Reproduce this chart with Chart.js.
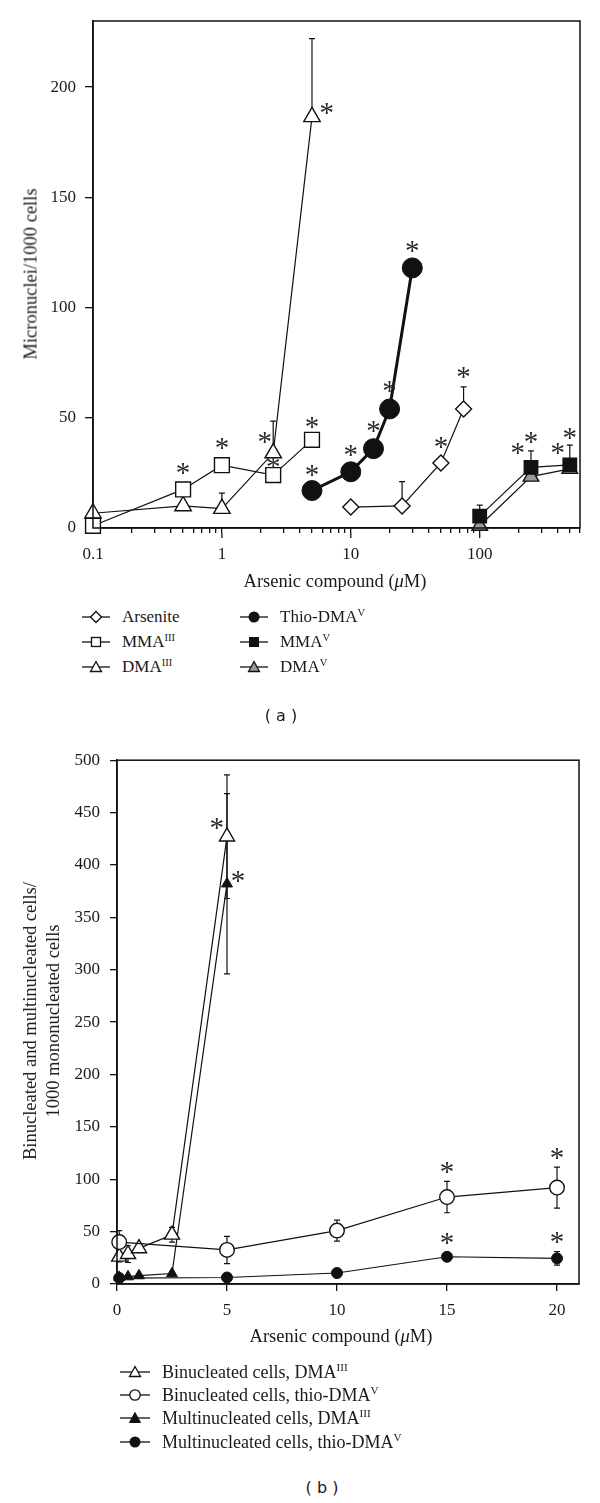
<!DOCTYPE html>
<html>
<head>
<meta charset="utf-8">
<script src="https://cdn.jsdelivr.net/npm/chart.js@4.4.1/dist/chart.umd.min.js"></script>
<style>
  body { margin: 0; background: #fff; overflow: hidden; }
  #wrap { position: relative; width: 600px; height: 1503px; font-family: 'Liberation Serif', 'Times New Roman', serif; color: #1a1a1a; }
  canvas { position: absolute; left: 0; }
  .txt { position: absolute; white-space: nowrap; }
  .ytitle { transform: translate(-50%, -50%) rotate(-90deg); text-align: center; line-height: 23px; }
  .xtitle { transform: translate(-50%, -50%); }
  .leg { position: absolute; display: flex; align-items: center; height: 22px; white-space: nowrap; }
  .leg svg { margin-right: 12px; flex: none; }
  .leg span { display: inline-block; }
  sup { font-size: 0.62em; vertical-align: 0.6em; line-height: 0; }
  .cap { position: absolute; transform: translate(-50%, -50%); font-family: 'DejaVu Sans', sans-serif; font-size: 16px; white-space: pre; }
</style>
</head>
<body>
<div id="wrap">
  <canvas id="chartA" width="600" height="600" style="top:0"></canvas>
  <div class="txt ytitle" style="left:31px;top:274px;font-size:18.5px">Micronuclei/1000 cells</div>
  <div class="txt xtitle" style="left:335px;top:581px;font-size:18.5px">Arsenic compound (<i>μ</i>M)</div>

  <div class="leg" style="left:82px;top:606px;font-size:17px">
    <svg width="28" height="16"><line x1="0" y1="8" x2="28" y2="8" stroke="#111" stroke-width="1.3"/><polygon points="14,2.5 19.5,8 14,13.5 8.5,8" fill="#fff" stroke="#111" stroke-width="1.3"/></svg><span>Arsenite</span></div>
  <div class="leg" style="left:82px;top:631px;font-size:17px">
    <svg width="28" height="16"><line x1="0" y1="8" x2="28" y2="8" stroke="#111" stroke-width="1.3"/><rect x="9.5" y="3.5" width="9" height="9" fill="#fff" stroke="#111" stroke-width="1.3"/></svg><span>MMA<sup>III</sup></span></div>
  <div class="leg" style="left:82px;top:656px;font-size:17px">
    <svg width="28" height="16"><line x1="0" y1="8" x2="28" y2="8" stroke="#111" stroke-width="1.3"/><polygon points="14,2.5 19.5,12.5 8.5,12.5" fill="#fff" stroke="#111" stroke-width="1.3"/></svg><span>DMA<sup>III</sup></span></div>
  <div class="leg" style="left:240px;top:606px;font-size:17px">
    <svg width="28" height="16"><line x1="0" y1="8" x2="28" y2="8" stroke="#111" stroke-width="1.3"/><circle cx="14" cy="8" r="5.5" fill="#111"/></svg><span>Thio-DMA<sup>V</sup></span></div>
  <div class="leg" style="left:240px;top:631px;font-size:17px">
    <svg width="28" height="16"><line x1="0" y1="8" x2="28" y2="8" stroke="#111" stroke-width="1.3"/><rect x="9" y="3" width="10" height="10" fill="#111"/></svg><span>MMA<sup>V</sup></span></div>
  <div class="leg" style="left:240px;top:656px;font-size:17px">
    <svg width="28" height="16"><line x1="0" y1="8" x2="28" y2="8" stroke="#111" stroke-width="1.3"/><polygon points="14,2.5 19.5,12.5 8.5,12.5" fill="#999" stroke="#111" stroke-width="1.3"/></svg><span>DMA<sup>V</sup></span></div>
  <div class="cap" style="left:281px;top:715px">( a )</div>

  <canvas id="chartB" width="600" height="620" style="top:740px"></canvas>
  <div class="txt ytitle" style="left:42px;top:1021px;font-size:18.5px">Binucleated and multinucleated cells/<br>1000 mononucleated cells</div>
  <div class="txt xtitle" style="left:341px;top:1336px;font-size:18.5px">Arsenic compound (<i>μ</i>M)</div>

  <div class="leg" style="left:120px;top:1361px;font-size:18px">
    <svg width="30" height="16"><line x1="0" y1="8" x2="30" y2="8" stroke="#111" stroke-width="1.3"/><polygon points="15,2.5 20.5,12.5 9.5,12.5" fill="#fff" stroke="#111" stroke-width="1.3"/></svg><span>Binucleated cells, DMA<sup>III</sup></span></div>
  <div class="leg" style="left:120px;top:1384px;font-size:18px">
    <svg width="30" height="16"><line x1="0" y1="8" x2="30" y2="8" stroke="#111" stroke-width="1.3"/><circle cx="15" cy="8" r="5.2" fill="#fff" stroke="#111" stroke-width="1.3"/></svg><span>Binucleated cells, thio-DMA<sup>V</sup></span></div>
  <div class="leg" style="left:120px;top:1407px;font-size:18px">
    <svg width="30" height="16"><line x1="0" y1="8" x2="30" y2="8" stroke="#111" stroke-width="1.3"/><polygon points="15,2.5 20.5,12.5 9.5,12.5" fill="#111" stroke="#111" stroke-width="1"/></svg><span>Multinucleated cells, DMA<sup>III</sup></span></div>
  <div class="leg" style="left:120px;top:1431px;font-size:18px">
    <svg width="30" height="16"><line x1="0" y1="8" x2="30" y2="8" stroke="#111" stroke-width="1.3"/><circle cx="15" cy="8" r="5.5" fill="#111"/></svg><span>Multinucleated cells, thio-DMA<sup>V</sup></span></div>
  <div class="cap" style="left:322px;top:1487px">( b )</div>
</div>

<script>
// ---- panel (a): micronuclei per 1000 cells ----
const arseniteDose = [10, 25, 50, 75];
const arseniteMN = [9.5, 10, 29.5, 54];
const arseniteSD = [0, 11, 0, 10];

const mma3Dose = [0.1, 0.5, 1, 2.5, 5];
const mma3MN = [1, 17.5, 28.5, 24, 40];

const dma3Dose = [0.1, 0.5, 1, 2.5, 5];
const dma3MN = [6.7, 10, 8.8, 34, 186.5];
const dma3SD = [0, 0, 7, 14.5, 35.5];

const thioDose = [5, 10, 15, 20, 30];
const thioMN = [17, 25.5, 36, 54, 118];

const mma5Dose = [100, 250, 500];
const mma5MN = [5.4, 27.5, 28.6];
const mma5SD = [5, 7.5, 9];

const dma5Dose = [100, 250, 500];
const dma5MN = [1, 23.3, 26.8];

// significance asterisks, [dose, value]
const starsA = [[0.5, 27], [1, 38.5], [2.15, 41], [2.5, 29.5], [6.5, 190.5], [5, 48],
                [5, 26], [10, 35], [15, 46], [20, 64], [30, 127.5],
                [50, 39], [75, 70.5], [197, 36], [250, 41], [403, 36], [500, 43]];

const xTicksA = [0.1, 0.2, 0.3, 0.4, 0.5, 0.6, 0.7, 0.8, 0.9,
                 1, 2, 3, 4, 5, 6, 7, 8, 9,
                 10, 20, 30, 40, 50, 60, 70, 80, 90,
                 100, 200, 300, 400, 500, 600];
const xLabelsA = [0.1, 1, 10, 100];
const yTicksA = [0, 50, 100, 150, 200];

// ---- panel (b): binucleated / multinucleated cells ----
const dmaDoseB = [0.1, 0.5, 1, 2.5, 5];
const thioDoseB = [0.1, 5, 10, 15, 20];
const binDMA = [26, 28.5, 34, 47, 427];
const binDMASD = [5, 8, 0, 7, 59];
const binThio = [40, 32.5, 51, 83, 92];
const binThioSD = [11, 13, 10, 15, 19.5];
const multiDMA = [6.5, 7, 8, 10, 382];
const multiDMASD = [0, 0, 0, 0, 86];
const multiThio = [5.7, 6.2, 10.5, 26, 24.5];
const multiThioSD = [0, 0, 0, 0, 6.5];

const starsB = [[4.53, 440], [5.5, 389], [15, 111], [15, 43], [20, 125], [20, 44]];

const xTicksB = [0, 5, 10, 15, 20];
const yTicksB = [0, 50, 100, 150, 200, 250, 300, 350, 400, 450, 500];

const INK = '#111';
const serif = "'Liberation Serif', 'Times New Roman', serif";

function series(label, xs, ys, extra) {
  return Object.assign({
    label: label,
    data: xs.map((x, i) => ({x: x, y: ys[i]})),
    borderColor: INK, borderWidth: 1.2,
    pointBorderColor: INK, pointBorderWidth: 1.4,
    pointBackgroundColor: '#fff',
    tension: 0, fill: false, clip: false
  }, extra);
}

// error bars drawn behind the markers
const errorBars = {
  id: 'errorBars',
  beforeDatasetsDraw(chart) {
    const ctx = chart.ctx, ys = chart.scales.y;
    chart.data.datasets.forEach((ds, i) => {
      if (!ds.sd) return;
      const meta = chart.getDatasetMeta(i);
      ctx.save();
      ctx.strokeStyle = INK;
      ctx.lineWidth = 1.2;
      ds.data.forEach((p, j) => {
        const sd = ds.sd[j];
        if (!sd) return;
        const x = meta.data[j].x;
        const top = ys.getPixelForValue(p.y + sd);
        const bot = ds.sdBoth ? ys.getPixelForValue(p.y - sd) : meta.data[j].y;
        ctx.beginPath();
        ctx.moveTo(x, top); ctx.lineTo(x, bot);
        ctx.moveTo(x - 3, top); ctx.lineTo(x + 3, top);
        if (ds.sdBoth) { ctx.moveTo(x - 3, bot); ctx.lineTo(x + 3, bot); }
        ctx.stroke();
      });
      ctx.restore();
    });
  }
};

// closes the plot box on top and right
const frame = {
  id: 'frame',
  afterDraw(chart) {
    const a = chart.chartArea, ctx = chart.ctx;
    ctx.save();
    ctx.strokeStyle = INK;
    ctx.lineWidth = 1.5;
    ctx.strokeRect(a.left, a.top, a.right - a.left, a.bottom - a.top);
    ctx.restore();
  }
};

function makeStars(points) {
  return {
    id: 'stars',
    afterDatasetsDraw(chart) {
      const ctx = chart.ctx, xs = chart.scales.x, ys = chart.scales.y;
      ctx.save();
      ctx.fillStyle = '#2a2a2a';
      ctx.font = '29px ' + serif;
      ctx.textAlign = 'center';
      ctx.textBaseline = 'alphabetic';
      const m = ctx.measureText('*');
      const mid = (m.actualBoundingBoxAscent - m.actualBoundingBoxDescent) / 2;
      points.forEach(p => {
        ctx.fillText('*', xs.getPixelForValue(p[0]), ys.getPixelForValue(p[1]) + mid);
      });
      ctx.restore();
    }
  };
}

function makeLongTicks(values, from, to) {
  return {
    id: 'longTicks',
    afterDraw(chart) {
      const ctx = chart.ctx, xs = chart.scales.x, b = chart.chartArea.bottom;
      ctx.save();
      ctx.strokeStyle = INK;
      ctx.lineWidth = 1.3;
      values.forEach(v => {
        const x = xs.getPixelForValue(v);
        ctx.beginPath(); ctx.moveTo(x, b + from); ctx.lineTo(x, b + to); ctx.stroke();
      });
      ctx.restore();
    }
  };
}

function axis(extra) {
  return Object.assign({
    grid: { display: true, drawOnChartArea: false, drawTicks: true, color: INK, lineWidth: 1.3 },
    border: { display: true, color: INK, width: 1.5 },
    ticks: { color: '#1a1a1a', font: { family: serif, size: 17 }, autoSkip: false, maxRotation: 0 }
  }, extra);
}

window.onload = function () {
  const ctxA = document.getElementById('chartA').getContext('2d');
  const ctxB = document.getElementById('chartB').getContext('2d');

  // Panel (a)
  new Chart(ctxA, {
    type: 'line',
    data: {
      datasets: [
        series('Thio-DMA V', thioDose, thioMN, {borderWidth: 3, pointStyle: 'circle', pointRadius: 10, pointBackgroundColor: INK, pointBorderWidth: 1}),
        series('Arsenite', arseniteDose, arseniteMN, {pointStyle: 'rectRot', pointRadius: 8, sd: arseniteSD}),
        series('MMA III', mma3Dose, mma3MN, {pointStyle: 'rect', pointRadius: 10.5}),
        series('DMA III', dma3Dose, dma3MN, {pointStyle: 'triangle', pointRadius: 9.5, sd: dma3SD}),
        series('MMA V', mma5Dose, mma5MN, {pointStyle: 'rect', pointRadius: 9.5, pointBackgroundColor: INK, sd: mma5SD}),
        series('DMA V', dma5Dose, dma5MN, {pointStyle: 'triangle', pointRadius: 9, pointBackgroundColor: '#9a9a9a'})
      ]
    },
    options: {
      responsive: false, animation: false,
      layout: { padding: { top: 21, right: 20, left: 0, bottom: 0 } },
      plugins: { legend: { display: false }, tooltip: { enabled: false } },
      scales: {
        x: axis({
          type: 'logarithmic', min: 0.1, max: 600,
          afterBuildTicks: s => { s.ticks = xTicksA.map(v => ({value: v})); },
          afterFit: s => { s.height = 72; },
          grid: { display: true, drawOnChartArea: false, drawTicks: true, color: INK, lineWidth: 1.3, tickLength: 5 },
          ticks: { color: '#1a1a1a', font: { family: serif, size: 17 }, autoSkip: false, maxRotation: 0, padding: 11,
                   callback: v => xLabelsA.includes(v) ? String(v) : '' }
        }),
        y: axis({
          type: 'linear', min: 0, max: 230,
          afterBuildTicks: s => { s.ticks = yTicksA.map(v => ({value: v})); },
          afterFit: s => { s.width = 93; },
          grid: { display: true, drawOnChartArea: false, drawTicks: true, color: INK, lineWidth: 1.3, tickLength: 8 },
          ticks: { color: '#1a1a1a', font: { family: serif, size: 17 }, padding: 9 }
        })
      }
    },
    plugins: [errorBars, frame, makeStars(starsA), makeLongTicks([1, 10, 100], 5, 10)]
  });

  // Panel (b)
  new Chart(ctxB, {
    type: 'line',
    data: {
      datasets: [
        series('Binucleated cells, thio-DMA V', thioDoseB, binThio, {pointStyle: 'circle', pointRadius: 7.3, sd: binThioSD, sdBoth: true}),
        series('Multinucleated cells, thio-DMA V', thioDoseB, multiThio, {pointStyle: 'circle', pointRadius: 5.5, pointBackgroundColor: INK, pointBorderWidth: 1, sd: multiThioSD, sdBoth: true}),
        series('Binucleated cells, DMA III', dmaDoseB, binDMA, {pointStyle: 'triangle', pointRadius: 8.7, sd: binDMASD, sdBoth: true}),
        series('Multinucleated cells, DMA III', dmaDoseB, multiDMA, {pointStyle: 'triangle', pointRadius: 6.3, pointBackgroundColor: INK, pointBorderWidth: 1, sd: multiDMASD, sdBoth: true})
      ]
    },
    options: {
      responsive: false, animation: false,
      layout: { padding: { top: 19, right: 21, left: 0, bottom: 0 } },
      plugins: { legend: { display: false }, tooltip: { enabled: false } },
      scales: {
        x: axis({
          type: 'linear', min: 0, max: 21,
          afterBuildTicks: s => { s.ticks = xTicksB.map(v => ({value: v})); },
          afterFit: s => { s.height = 76; },
          grid: { display: true, drawOnChartArea: false, drawTicks: true, color: INK, lineWidth: 1.3, tickLength: 7 },
          ticks: { color: '#1a1a1a', font: { family: serif, size: 17 }, autoSkip: false, maxRotation: 0, padding: 9 }
        }),
        y: axis({
          type: 'linear', min: 0, max: 500,
          afterBuildTicks: s => { s.ticks = yTicksB.map(v => ({value: v})); },
          afterFit: s => { s.width = 117; },
          grid: { display: true, drawOnChartArea: false, drawTicks: true, color: INK, lineWidth: 1.3, tickLength: 7 },
          ticks: { color: '#1a1a1a', font: { family: serif, size: 17 }, padding: 10 }
        })
      }
    },
    plugins: [errorBars, frame, makeStars(starsB)]
  });
};
</script>
</body>
</html>
